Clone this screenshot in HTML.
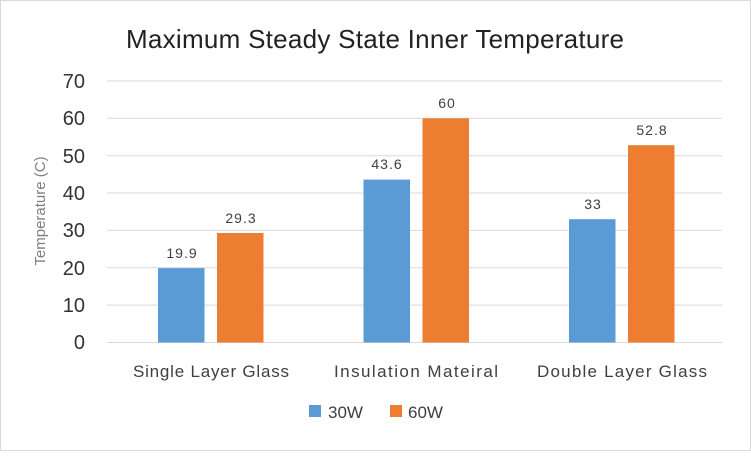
<!DOCTYPE html>
<html><head><meta charset="utf-8"><style>
html,body{margin:0;padding:0;background:#fff;}
svg text{font-family:"Liberation Sans",sans-serif;}
</style></head><body>
<svg width="751" height="451" xmlns="http://www.w3.org/2000/svg">
<rect x="0.5" y="0.5" width="750" height="450" fill="#fff" stroke="#d9d9d9"/>
<text x="375" y="48" font-size="26" text-anchor="middle" fill="#222" textLength="498">Maximum Steady State Inner Temperature</text>
<g stroke="#d9d9d9" stroke-width="1">
<line x1="107" x2="722" y1="81" y2="81"/>
<line x1="107" x2="722" y1="118.3" y2="118.3"/>
<line x1="107" x2="722" y1="155.7" y2="155.7"/>
<line x1="107" x2="722" y1="193" y2="193"/>
<line x1="107" x2="722" y1="230.4" y2="230.4"/>
<line x1="107" x2="722" y1="267.8" y2="267.8"/>
<line x1="107" x2="722" y1="305.1" y2="305.1"/>
<line x1="107" x2="722" y1="342.5" y2="342.5"/>
</g>
<g font-size="20" fill="#333" text-anchor="end">
<text x="85" y="88">70</text><text x="85" y="125">60</text><text x="85" y="163">50</text><text x="85" y="200">40</text><text x="85" y="237">30</text><text x="85" y="275">20</text><text x="85" y="312">10</text><text x="85" y="349">0</text>
</g>
<text transform="translate(45,211) rotate(-90)" font-size="15" fill="#7f7f7f" text-anchor="middle">Temperature (C)</text>
<g fill="#5b9bd5">
<rect x="158" y="268.1" width="46.5" height="74.4"/>
<rect x="363.5" y="179.6" width="46.5" height="162.9"/>
<rect x="569" y="219.2" width="46.5" height="123.3"/>
</g>
<g fill="#ed7d31">
<rect x="217" y="233" width="46.5" height="109.5"/>
<rect x="422.5" y="118.3" width="46.5" height="224.2"/>
<rect x="628" y="145.2" width="46.5" height="197.3"/>
</g>
<g font-size="14" fill="#404040" text-anchor="middle" letter-spacing="1">
<text x="182" y="258">19.9</text>
<text x="241" y="223">29.3</text>
<text x="387" y="169">43.6</text>
<text x="447" y="108">60</text>
<text x="593" y="209">33</text>
<text x="652" y="135">52.8</text>
</g>
<g font-size="17" fill="#404040" text-anchor="middle">
<text x="211" y="377" textLength="156">Single Layer Glass</text>
<text x="416" y="377" textLength="164">Insulation Mateiral</text>
<text x="622" y="377" textLength="170">Double Layer Glass</text>
</g>
<rect x="309" y="405" width="12" height="12" fill="#5b9bd5"/>
<text x="328" y="418" font-size="17" fill="#404040">30W</text>
<rect x="390" y="405" width="12" height="12" fill="#ed7d31"/>
<text x="408" y="418" font-size="17" fill="#404040">60W</text>
</svg>
</body></html>
